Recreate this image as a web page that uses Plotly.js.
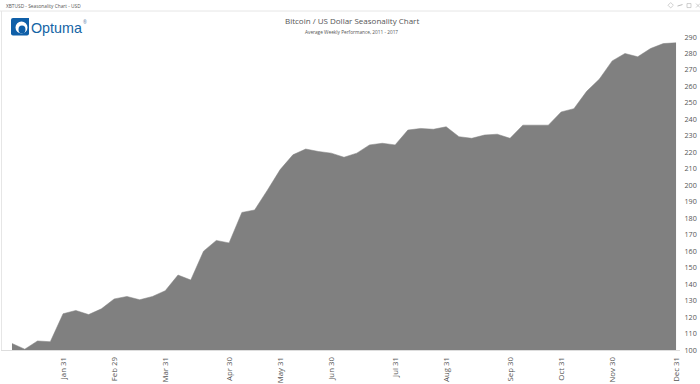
<!DOCTYPE html>
<html><head><meta charset="utf-8">
<script src="https://cdn.plot.ly/plotly-3.0.1.min.js"></script>
<style>html,body{margin:0;padding:0;background:#fff;overflow:hidden}#c{width:700px;height:384px}</style>
</head><body><div id="c"></div>
<script>
const weeks = [0,1,2,3,4,5,6,7,8,9,10,11,12,13,14,15,16,17,18,19,20,21,22,23,24,25,26,27,28,29,30,31,32,33,34,35,36,37,38,39,40,41,42,43,44,45,46,47,48,49,50,51,52];
const values = [104,100.5,105.5,105,122,124,121.5,125,131,132.5,130.5,132.5,136,145.5,142.5,160,166.5,165,183.5,185,197,209.5,218.5,222,220.5,219.5,217,219.5,224.5,225.5,224.5,233.5,234.5,234,235.5,229.5,228.5,230.5,231,228.5,236.5,236.5,236.5,244.5,246.5,257,264.5,275.5,280,278,283,286,286.5];
const monthTicks = [4,8,12,17,21,25,30,34,39,43,47,52];
const monthLabels = ["Jan 31","Feb 29","Mar 31","Apr 30","May 31","Jun 30","Jul 31","Aug 31","Sep 30","Oct 31","Nov 30","Dec 31"];
const yTicks = [100,110,120,130,140,150,160,170,180,190,200,210,220,230,240,250,260,270,280,290];
const font = "'Open Sans', sans-serif";
const L=1,R=20,T=36.5,B=34,W=700,H=384;
const px = v => (v-L)/(W-L-R), py = v => (H-B-v)/(H-T-B);
const trace = {x:weeks, y:values, type:"scatter", mode:"lines", fill:"tozeroy", fillcolor:"#808080", line:{color:"#808080",width:0.5}, hoverinfo:"skip"};
const note = (x,y,text,size,color,anchor,fam) => ({xref:"paper",yref:"paper",x:px(x),y:py(y),xanchor:anchor||"left",yanchor:"middle",text,showarrow:false,font:{size,color,family:fam||font},borderpad:0});
const line = (x0,y0,x1,y1,c,w) => ({type:"line",xref:"paper",yref:"paper",x0:px(x0),x1:px(x1),y0:py(y0),y1:py(y1),line:{color:c,width:w||1},layer:"above"});
const layout = {
  width:W, height:H, paper_bgcolor:"#fff", plot_bgcolor:"#fff", showlegend:false,
  margin:{l:L,r:R,t:T,b:B,pad:0},
  font:{family:font,color:"#555"},
  xaxis:{range:[-0.86,52.31],tickmode:"array",tickvals:monthTicks,ticktext:monthLabels,tickangle:-90,tickfont:{size:7.8,color:"#555",family:font},showgrid:false,zeroline:false,showline:true,linecolor:"#ddd",linewidth:1,ticks:"outside",ticklen:3,tickcolor:"rgba(0,0,0,0)"},
  yaxis:{range:[100,290],side:"right",tickmode:"array",tickvals:yTicks,ticktext:yTicks.map(String),tickfont:{size:7.2,color:"#555",family:font},showgrid:false,zeroline:false,showline:false,ticks:"outside",ticklen:2,tickcolor:"rgba(0,0,0,0)"},
  annotations:[
    note(5,5,"XBTUSD - Seasonality Chart - USD",4.8,"#555"),
    note(351.5,19.5,"Bitcoin / US Dollar Seasonality Chart",8,"#555","center"),
    note(351.5,31,"Average Weekly Performance, 2011 - 2017",4.75,"#555","center"),
    note(29.5,27,"Optuma",14.3,"#1464a5","left","'Liberation Sans Narrow', sans-serif"),
    note(81.5,21.5,"®",4.5,"#5a7fa8")
  ],
  shapes:[
    line(0,10.5,700,10.5,"#e6e6e6"),
    line(1.5,10.5,1.5,350,"#e6e6e6"),
    {type:"path",xref:"paper",yref:"paper",path:`M ${px(13)} ${py(17.5)} L ${px(29)} ${py(17.5)} L ${px(29)} ${py(33)} Q ${px(29)} ${py(35)} ${px(27)} ${py(35)} L ${px(13)} ${py(35)} Q ${px(11)} ${py(35)} ${px(11)} ${py(33)} L ${px(11)} ${py(19.5)} Q ${px(11)} ${py(17.5)} ${px(13)} ${py(17.5)} Z`,fillcolor:"#0f5fa8",line:{width:0},layer:"above"},
    {type:"circle",xref:"paper",yref:"paper",x0:px(15.5),x1:px(27.5),y0:py(21),y1:py(33),fillcolor:"#fff",line:{width:0},layer:"above"},
    {type:"circle",xref:"paper",yref:"paper",x0:px(18.5),x1:px(25.5),y0:py(25),y1:py(33),fillcolor:"#0f5fa8",line:{width:0},layer:"above"},
    {type:"path",xref:"paper",yref:"paper",path:`M ${px(668)} ${py(4.7)} L ${px(670.7)} ${py(2)} L ${px(673.4)} ${py(4.7)} L ${px(670.7)} ${py(7.4)} Z`,fillcolor:"#fff",line:{color:"#bbb",width:0.7},layer:"above"},
    line(677.5,5.5,682.5,4,"#bbb"),
    {type:"rect",xref:"paper",yref:"paper",x0:px(687),x1:px(691),y0:py(3),y1:py(7),fillcolor:"#fff",line:{color:"#bbb",width:0.7},layer:"above"},
    line(696,3,700,7,"#bbb",0.7),
    line(696,7,700,3,"#bbb",0.7)
  ]
};
Plotly.newPlot("c",[trace],layout,{staticPlot:true,displayModeBar:false});
</script></body></html>
